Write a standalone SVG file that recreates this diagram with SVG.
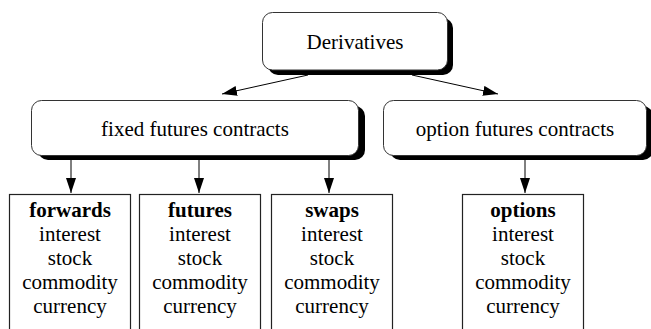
<svg xmlns="http://www.w3.org/2000/svg" width="651" height="329" viewBox="0 0 651 329">
<defs>
<style>
text{font-family:"Liberation Serif","Times New Roman",serif;font-size:21px;fill:#000;text-anchor:middle}
.b{font-weight:bold}
.shadow{fill:#000}
.rbox{fill:#fff;stroke:#333;stroke-width:1}
.box{fill:#fff;stroke:#222;stroke-width:1.2}
.edge{stroke:#000;stroke-width:1;fill:none;marker-end:url(#ah)}
</style>
<marker id="ah" markerWidth="16" markerHeight="12" refX="15" refY="5" orient="auto" markerUnits="userSpaceOnUse">
<path d="M0,0 L15,5 L0,10 Z" fill="#000"/>
</marker>
</defs>
<rect width="651" height="329" fill="#fff"/>
<g id="connectors">
<line class="edge" x1="308" y1="75" x2="222" y2="94"/>
<line class="edge" x1="412" y1="75" x2="498" y2="94"/>
<line class="edge" x1="71" y1="159" x2="71" y2="193"/>
<line class="edge" x1="199" y1="159" x2="199" y2="193"/>
<line class="edge" x1="329" y1="159" x2="329" y2="193"/>
<line class="edge" x1="525" y1="159" x2="525" y2="193"/>
</g>
<g id="derivatives">
<rect class="shadow" x="268" y="18" width="185" height="57" rx="10"/>
<rect class="rbox" x="262.5" y="12.5" width="185" height="57.5" rx="10"/>
<text x="355" y="48.5">Derivatives</text>
</g>
<g id="fixed">
<rect class="shadow" x="38" y="106" width="327" height="54" rx="10"/>
<rect class="rbox" x="31.5" y="100.5" width="327" height="55" rx="10"/>
<text x="195" y="135.5">fixed futures contracts</text>
</g>
<g id="option">
<rect class="shadow" x="390" y="106" width="263" height="54" rx="10"/>
<rect class="rbox" x="383.5" y="100.5" width="263" height="55" rx="10"/>
<text x="515" y="135.5">option futures contracts</text>
</g>
<g id="forwards">
<rect class="box" x="9.5" y="194.5" width="121" height="145"/>
<text x="70" y="217" class="b">forwards</text>
<text x="70" y="241">interest</text>
<text x="70" y="265">stock</text>
<text x="70" y="289">commodity</text>
<text x="70" y="313">currency</text>
</g>
<g id="futures">
<rect class="box" x="139.5" y="194.5" width="121" height="145"/>
<text x="200" y="217" class="b">futures</text>
<text x="200" y="241">interest</text>
<text x="200" y="265">stock</text>
<text x="200" y="289">commodity</text>
<text x="200" y="313">currency</text>
</g>
<g id="swaps">
<rect class="box" x="271.5" y="194.5" width="121" height="145"/>
<text x="332" y="217" class="b">swaps</text>
<text x="332" y="241">interest</text>
<text x="332" y="265">stock</text>
<text x="332" y="289">commodity</text>
<text x="332" y="313">currency</text>
</g>
<g id="options">
<rect class="box" x="462.5" y="194.5" width="121" height="145"/>
<text x="523" y="217" class="b">options</text>
<text x="523" y="241">interest</text>
<text x="523" y="265">stock</text>
<text x="523" y="289">commodity</text>
<text x="523" y="313">currency</text>
</g>
</svg>
